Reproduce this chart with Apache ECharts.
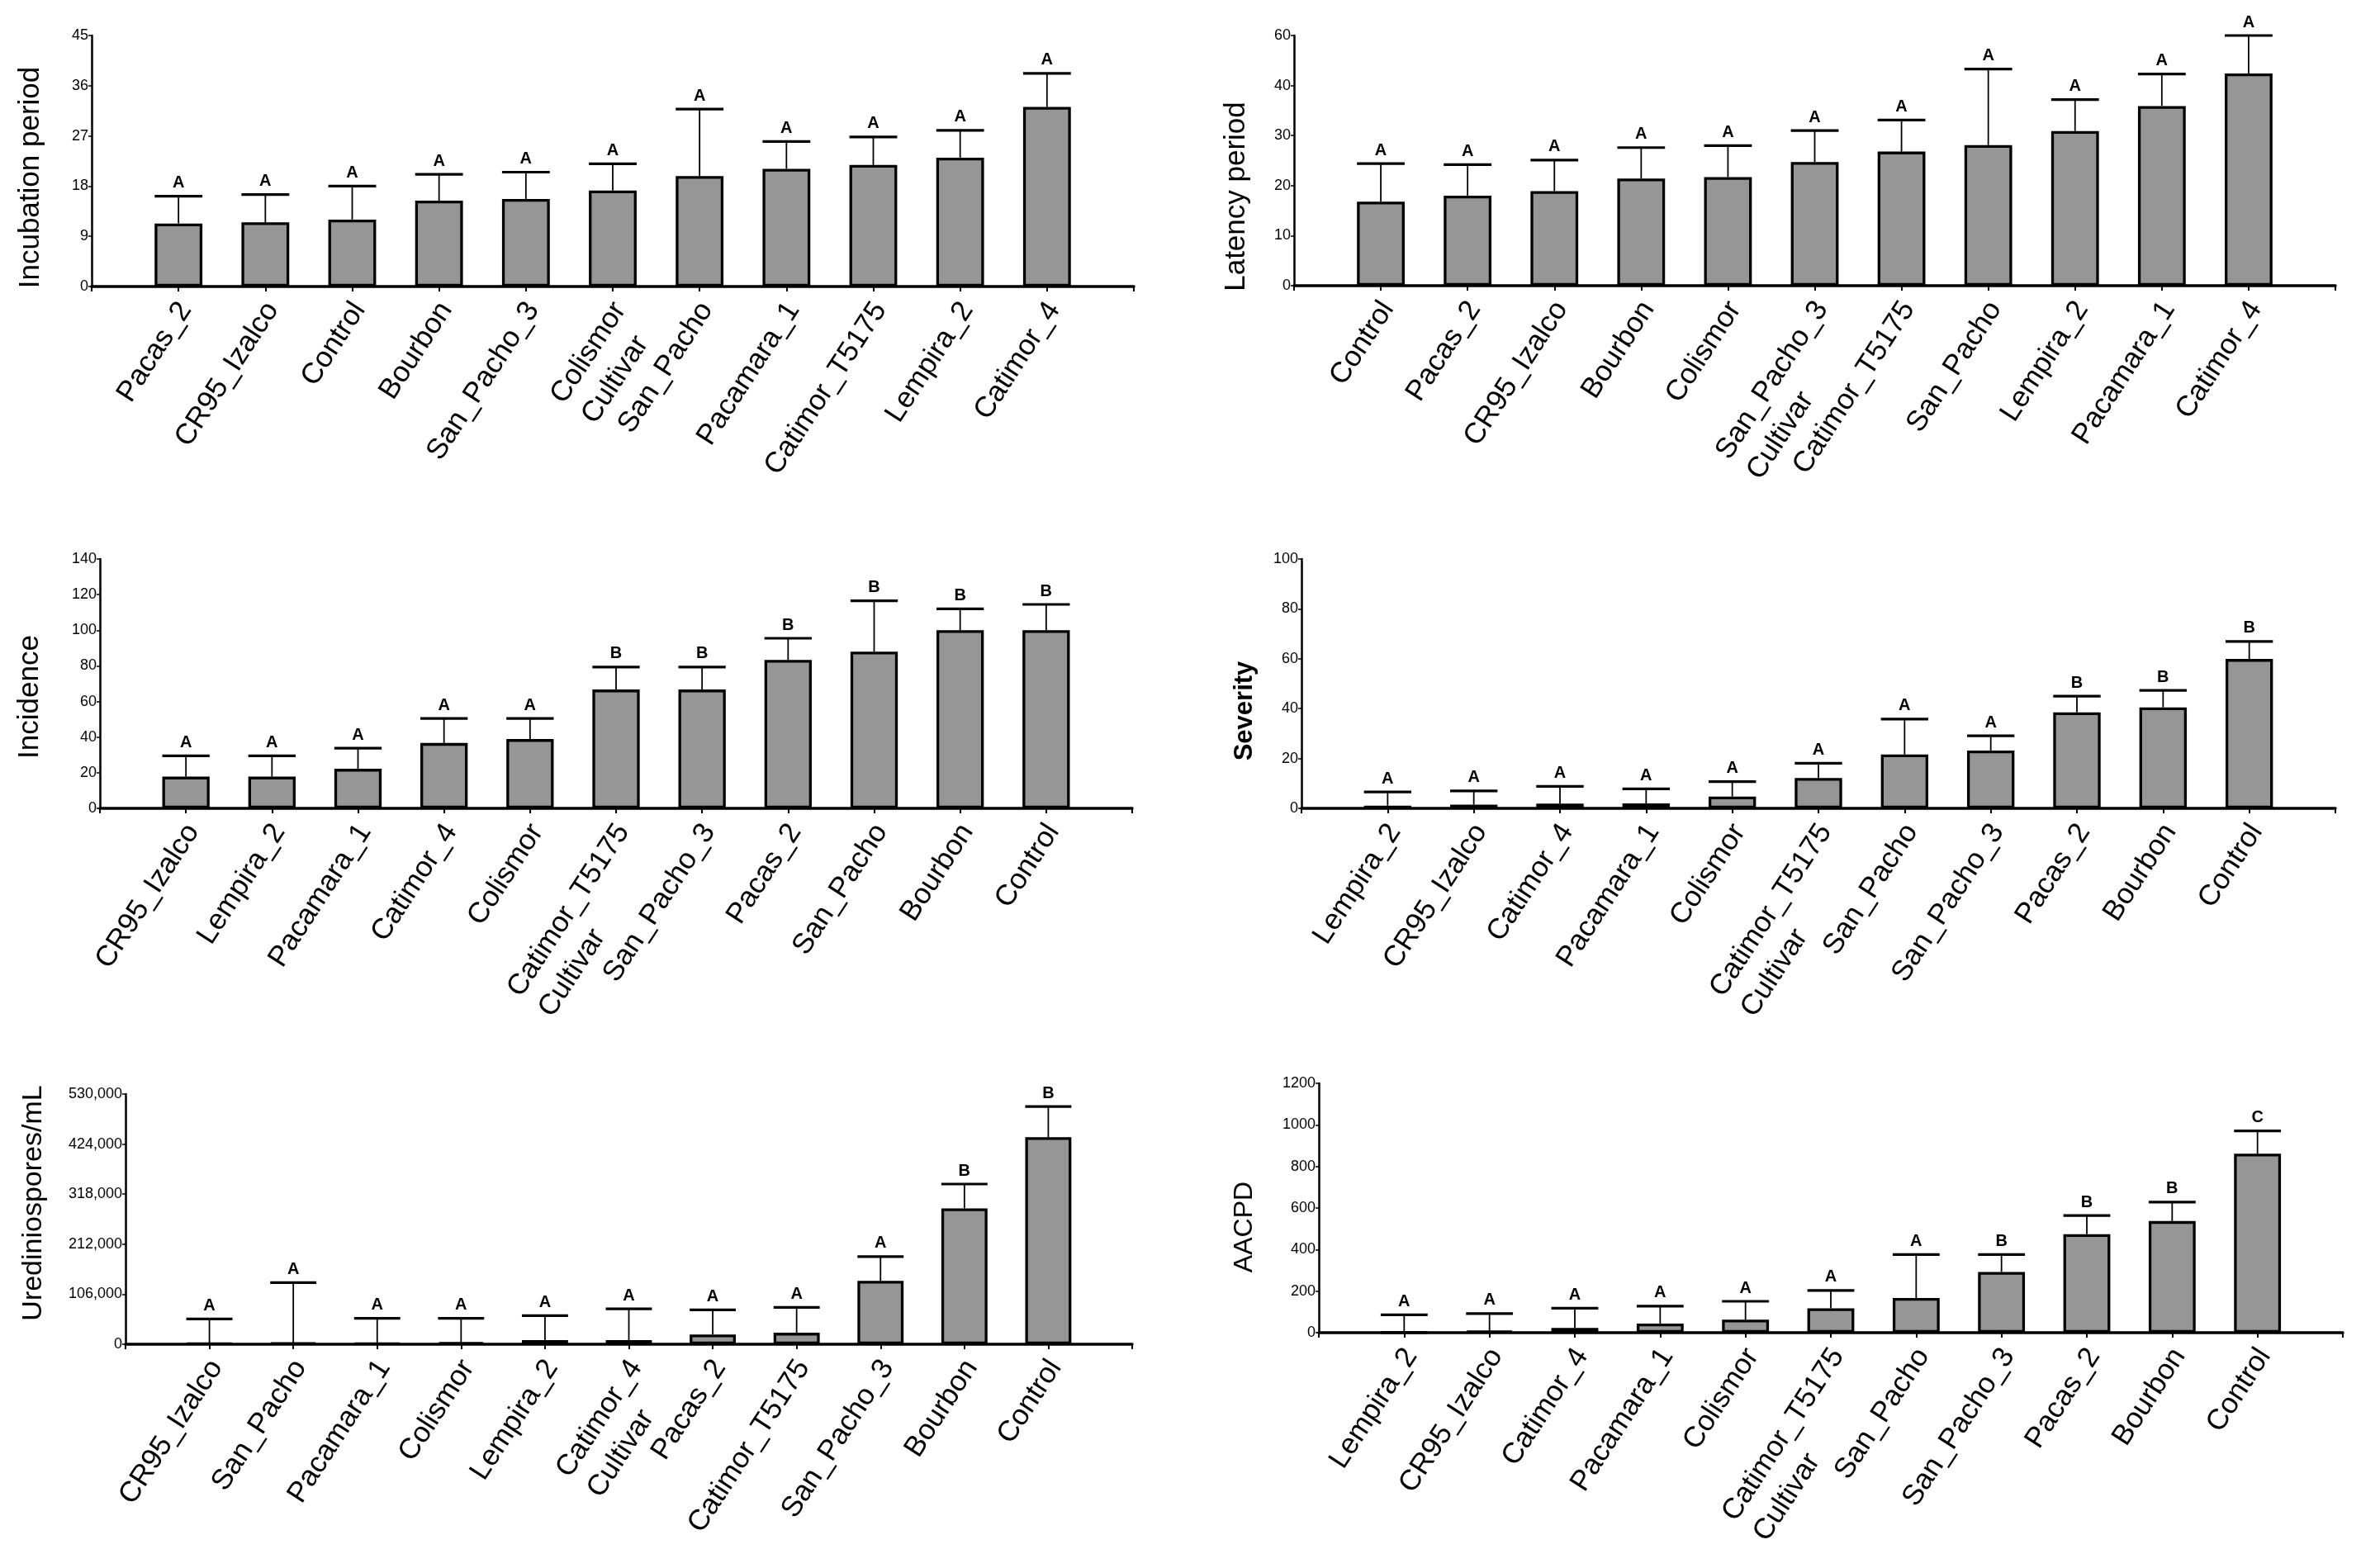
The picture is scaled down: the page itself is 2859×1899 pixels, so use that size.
<!DOCTYPE html>
<html><head><meta charset="utf-8">
<script src="https://cdn.jsdelivr.net/npm/echarts@6/dist/echarts.min.js"></script>
<style>html,body{margin:0;padding:0;background:#fff}#c{width:2859px;height:1899px}</style>
</head><body><div id="c"></div>
<script>
// ---- Panel 1: Incubation period
const incCats = ['Pacas_2','CR95_Izalco','Control','Bourbon','San_Pacho_3','Colismor\nCultivar','San_Pacho','Pacamara_1','Catimor_T5175','Lempira_2','Catimor_4'];
const incVals = [11.3,11.5,12.0,15.4,15.7,17.2,19.8,21.1,21.8,23.1,32.2];
const incErr  = [16.2,16.5,18.0,20.1,20.5,22.0,31.8,26.0,26.8,28.0,38.2];
const incLetters = ['A','A','A','A','A','A','A','A','A','A','A'];
const incTicks = ['0','9','18','27','36','45'];

// ---- Panel 2: Latency period (axis labelled 0..40,60 as in source)
const latCats = ['Control','Pacas_2','CR95_Izalco','Bourbon','Colismor','San_Pacho_3\nCultivar','Catimor_T5175','San_Pacho','Lempira_2','Pacamara_1','Catimor_4'];
const latVals = [16.8,18.0,18.9,21.4,21.7,24.7,26.8,28.1,30.9,35.9,42.4];
const latErr  = [24.4,24.2,25.1,27.6,28.0,31.0,33.1,43.3,37.2,42.3,50.0];
const latLetters = ['A','A','A','A','A','A','A','A','A','A','A'];
const latTicks = ['0','10','20','30','40','60'];

// ---- Panel 3: Incidence
const incdCats = ['CR95_Izalco','Lempira_2','Pacamara_1','Catimor_4','Colismor','Catimor_T5175\nCultivar','San_Pacho_3','Pacas_2','San_Pacho','Bourbon','Control'];
const incdVals = [17.8,17.8,22.2,36.7,38.9,66.7,66.7,83.3,88.0,100,100];
const incdErr  = [29.5,29.5,33.8,50.5,50.5,79.3,79.3,95.5,116.5,112.0,114.5];
const incdLetters = ['A','A','A','A','A','B','B','B','B','B','B'];
const incdTicks = ['0','20','40','60','80','100','120','140'];

// ---- Panel 4: Severity
const sevCats = ['Lempira_2','CR95_Izalco','Catimor_4','Pacamara_1','Colismor','Catimor_T5175\nCultivar','San_Pacho','San_Pacho_3','Pacas_2','Bourbon','Control'];
const sevVals = [1.1,1.5,1.9,2.0,4.7,12.2,21.6,23.2,38.5,40.5,59.9];
const sevErr  = [6.6,7.0,8.8,7.8,10.7,18.1,35.8,29.1,45.0,47.3,66.9];
const sevLetters = ['A','A','A','A','A','A','A','A','B','B','B'];
const sevTicks = ['0','20','40','60','80','100'];

// ---- Panel 5: Urediniospores/mL
const ureCats = ['CR95_Izalco','San_Pacho','Pacamara_1','Colismor','Lempira_2','Catimor_4\nCultivar','Pacas_2','Catimor_T5175','San_Pacho_3','Bourbon','Control'];
const ureVals = [2000,3000,2500,4000,8600,8600,20700,24300,134300,287900,438600];
const ureErr  = [53600,130700,55000,55000,60700,75000,72900,77900,185700,339300,503600];
const ureLetters = ['A','A','A','A','A','A','A','A','A','B','B'];
const ureTicks = ['0','106,000','212,000','318,000','424,000','530,000'];

// ---- Panel 6: AACPD
const aacCats = ['Lempira_2','CR95_Izalco','Catimor_4','Pacamara_1','Colismor','Catimor_T5175\nCultivar','San_Pacho','San_Pacho_3','Pacas_2','Bourbon','Control'];
const aacVals = [2,8,23,44,63,117,167,292,474,537,861];
const aacErr  = [86,92,118,128,151,203,376,376,564,628,971];
const aacLetters = ['A','A','A','A','A','A','A','B','B','B','C'];
const aacTicks = ['0','200','400','600','800','1000','1200'];

const titles = ['Incubation period','Latency period','Incidence','Severity','Urediniospores/mL','AACPD'];

const panels = [
  {cats:incCats, vals:incVals, errs:incErr, letters:incLetters, ticks:incTicks, interval:9, max:45},
  {cats:latCats, vals:latVals, errs:latErr, letters:latLetters, ticks:latTicks, interval:10, max:50},
  {cats:incdCats, vals:incdVals, errs:incdErr, letters:incdLetters, ticks:incdTicks, interval:20, max:140},
  {cats:sevCats, vals:sevVals, errs:sevErr, letters:sevLetters, ticks:sevTicks, interval:20, max:100},
  {cats:ureCats, vals:ureVals, errs:ureErr, letters:ureLetters, ticks:ureTicks, interval:106000, max:530000},
  {cats:aacCats, vals:aacVals, errs:aacErr, letters:aacLetters, ticks:aacTicks, interval:200, max:1200}
];

// layout (pixels)
const grids = [
  {left:111, top:43, width:1262, height:304},
  {left:1567, top:43, width:1261, height:303},
  {left:121, top:677, width:1250, height:302},
  {left:1576, top:677, width:1252, height:302},
  {left:152, top:1325, width:1219, height:303},
  {left:1597, top:1312, width:1240, height:302}
];
const titleLayout = [
  {x:37, y:215, font:'35px "Liberation Sans", Arial, sans-serif'},
  {x:1497, y:238, font:'35px "Liberation Sans", Arial, sans-serif'},
  {x:36, y:844, font:'35px "Liberation Sans", Arial, sans-serif'},
  {x:1507, y:861, font:'bold 31px "Liberation Sans", Arial, sans-serif'},
  {x:41, y:1457, font:'34px "Liberation Sans", Arial, sans-serif'},
  {x:1507, y:1486, font:'32px "Liberation Sans", Arial, sans-serif'}
];

const LABEL_SHIFT = 10, LINE_H = 45, FONT = '"Liberation Sans", Arial, sans-serif';
const option = {animation:false, backgroundColor:'#fff', grid:[], xAxis:[], yAxis:[], series:[], graphic:[]};
const richL = {l:{align:'left', fontSize:35, lineHeight:LINE_H, fontFamily:FONT, color:'#000'}};

panels.forEach((p, k) => {
  option.grid.push(Object.assign({containLabel:false}, grids[k]));
  const axisData = [''].concat(p.cats.map(c => c.indexOf('\n') >= 0
      ? {value:c, textStyle:{padding:[2*LABEL_SHIFT + LINE_H,0,0,0]}}
      : c)).concat(['']);
  option.xAxis.push({
    type:'category', gridIndex:k, data:axisData, boundaryGap:false,
    axisLine:{show:true, lineStyle:{color:'#000', width:3.5}},
    axisTick:{show:true, interval:0, length:6, lineStyle:{color:'#000', width:2}},
    axisLabel:{interval:0, rotate:57, margin:17, color:'#000', fontSize:35, lineHeight:LINE_H,
      fontFamily:FONT, padding:[2*LABEL_SHIFT,0,0,0], rich:richL,
      formatter:(v) => v.indexOf('\n') >= 0 ? v.split('\n').map(s => '{l|' + s + '}').join('\n') : v},
    splitLine:{show:false}
  });
  const ticks = p.ticks, iv = p.interval;
  option.yAxis.push({
    type:'value', gridIndex:k, min:0, max:p.max, interval:iv,
    axisLine:{show:true, lineStyle:{color:'#000', width:2.5}},
    axisTick:{show:true, length:4, lineStyle:{color:'#000', width:1.5}},
    axisLabel:{margin:4, color:'#000', fontSize:18, fontFamily:FONT,
      formatter:(v) => ticks[Math.round(v/iv)]},
    splitLine:{show:false}
  });
  option.series.push({
    type:'bar', xAxisIndex:k, yAxisIndex:k, barWidth:'55%',
    data:p.vals.map((v,i) => [i+1, v]),
    itemStyle:{color:'#969696', borderColor:'#000', borderWidth:3.3}, z:2
  });
  const letters = p.letters;
  option.series.push({
    type:'custom', xAxisIndex:k, yAxisIndex:k, z:3,
    data:p.vals.map((v,i) => [i+1, v, p.errs[i]]),
    renderItem:(params, api) => {
      const i = api.value(0), v = api.value(1), t = api.value(2);
      const p0 = api.coord([i, v]), p1 = api.coord([i, t]);
      const hw = api.size([1,0])[0]*0.55/2;
      return {type:'group', children:[
        {type:'line', shape:{x1:p0[0], y1:p0[1], x2:p1[0], y2:p1[1]}, style:{stroke:'#000', lineWidth:1.8}},
        {type:'line', shape:{x1:p1[0]-hw, y1:p1[1], x2:p1[0]+hw, y2:p1[1]}, style:{stroke:'#000', lineWidth:3.2}},
        {type:'text', x:p1[0], y:p1[1]-16, style:{text:letters[params.dataIndex], fill:'#000',
          font:'bold 20px "Liberation Sans Narrow", "Liberation Sans", Arial, sans-serif', align:'center', verticalAlign:'middle'}}
      ]};
    }
  });
  const tl = titleLayout[k];
  option.graphic.push({type:'text', x:tl.x, y:tl.y, rotation:Math.PI/2,
    style:{text:titles[k], font:tl.font, fill:'#000', align:'center', verticalAlign:'middle'}});
});

const chart = echarts.init(document.getElementById('c'), null, {renderer:'canvas'});
chart.setOption(option);
</script></body></html>
